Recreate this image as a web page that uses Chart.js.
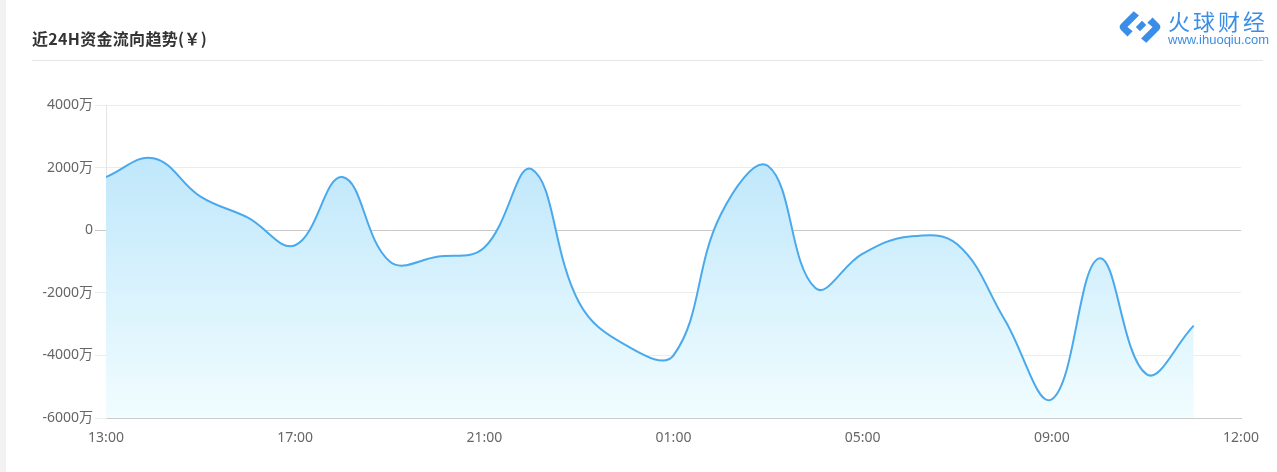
<!DOCTYPE html>
<html>
<head>
<meta charset="utf-8">
<script src="https://cdn.jsdelivr.net/npm/chart.js@4"></script>
<style>
  html, body { margin: 0; padding: 0; background: #fff; }
  #page { position: relative; width: 1277px; height: 472px; overflow: hidden; background: #fff; }
  #strip { position: absolute; left: 0; top: 0; width: 6px; height: 472px; background: #f2f2f2; }
  #title { position: absolute; left: 32px; top: 26px; font-family: "Noto Sans CJK SC", sans-serif; font-weight: bold; font-size: 16px; letter-spacing: 0.3px; color: #333; line-height: 24px; white-space: nowrap; }
  #sep { position: absolute; left: 32px; top: 60px; width: 1231px; height: 1px; background: #e6e6e6; }
  #logo { position: absolute; left: 1117px; top: 8px; width: 158px; height: 42px; }
  #logoName { position: absolute; left: 51px; top: -2px; font-family: "Noto Sans CJK SC", sans-serif; font-size: 22px; letter-spacing: 3px; color: #3a8ee8; line-height: 28px; white-space: nowrap; }
  #logoUrl { position: absolute; left: 51px; top: 25px; font-family: "Liberation Sans", Arial, sans-serif; font-size: 13px; color: #3a8ee8; line-height: 14px; white-space: nowrap; }
  #wrap { position: absolute; left: 0; top: 0; width: 1277px; height: 472px; }
</style>
</head>
<body>
<div id="page">
  <div id="strip"></div>
  <div id="wrap"><canvas id="c"></canvas></div>
  <div id="title">近24H资金流向趋势(￥)</div>
  <div id="sep"></div>
  <div id="logo">
    <svg width="46" height="38" viewBox="0 0 44 36" style="position:absolute;left:0;top:0px">
      <path d="M16 3 L4 15 Q1 18 4 21 L10 27 L15 22 L10 18 L21 7 Z" fill="#3a8ee8"/>
      <path d="M28 33 L40 21 Q43 18 40 15 L34 9 L29 14 L34 18 L23 29 Z" fill="#3a8ee8"/>
      <path d="M18 18 L24 12 L28 16 L22 22 Z" fill="#3a8ee8"/>
    </svg>
    <div id="logoName">火球财经</div>
    <div id="logoUrl">www.ihuoqiu.com</div>
  </div>
</div>
<script>
// ---- data ----
const hours = ['13:00','14:00','15:00','16:00','17:00','18:00','19:00','20:00','21:00','22:00','23:00','00:00',
               '01:00','02:00','03:00','04:00','05:00','06:00','07:00','08:00','09:00','10:00','11:00','12:00'];
const flowValues = [1700, 2300, 1070, 400, -480, 1700, -1000, -850, -550, 1950, -2300, -3680,
                    -4000, 500, 2050, -1850, -750, -200, -450, -2850, -5400, -900, -4600, -3050];
const xTickLabels = ['13:00','17:00','21:00','01:00','05:00','09:00','12:00'];
const yTicks = [-6000, -4000, -2000, 0, 2000, 4000];

const points = flowValues.map((v, i) => ({ x: i, y: v }));

const ctx = document.getElementById('c').getContext('2d');
new Chart(ctx, {
  type: 'line',
  data: {
    datasets: [{
      label: hours.join(','),
      data: points,
      borderColor: '#4aa9ec',
      borderWidth: 2,
      pointRadius: 0,
      pointHoverRadius: 0,
      tension: 0.4,
      fill: 'start',
      backgroundColor: (c) => {
        const area = c.chart.chartArea;
        if (!area) return 'rgba(190,230,250,0.8)';
        const g = c.chart.ctx.createLinearGradient(0, area.top + 40, 0, area.bottom);
        g.addColorStop(0, '#bde6fb');
        g.addColorStop(1, '#f1fdff');
        return g;
      }
    }]
  },
  options: {
    responsive: true,
    maintainAspectRatio: false,
    animation: false,
    layout: { padding: { top: 105, right: 36, bottom: 0, left: 0 } },
    plugins: { legend: { display: false }, tooltip: { enabled: false } },
    scales: {
      x: {
        type: 'linear',
        min: 0,
        max: 24,
        afterFit: (s) => { s.height = 54; },
        afterBuildTicks: (s) => { s.ticks = xTickLabels.map((t, i) => ({ value: i * 4 })); },
        ticks: {
          callback: (v, i) => xTickLabels[i],
          color: '#666',
          padding: 12,
          maxRotation: 0,
          font: { family: '"Noto Sans", "Noto Sans CJK SC", sans-serif', size: 14 }
        },
        grid: { display: false, drawTicks: false },
        border: { display: true, color: '#cccccc', width: 1 }
      },
      y: {
        min: -6000,
        max: 4000,
        afterFit: (s) => { s.width = 106; },
        afterBuildTicks: (s) => { s.ticks = yTicks.map(v => ({ value: v })); },
        ticks: {
          callback: (v) => v === 0 ? '0' : v + '万',
          color: '#666',
          padding: 2,
          font: { family: '"Noto Sans", "Noto Sans CJK SC", sans-serif', size: 14 }
        },
        grid: {
          color: (c) => (c.tick && c.tick.value === 0) ? '#c8c8c8' : '#ececec',
          tickLength: 11,
          drawTicks: true
        },
        border: { display: true, color: '#e4e4e4', width: 1 }
      }
    }
  }
});
</script>
</body>
</html>
